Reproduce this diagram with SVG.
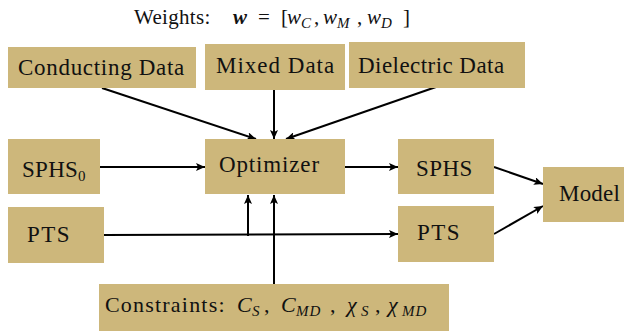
<svg xmlns="http://www.w3.org/2000/svg" width="624" height="332" viewBox="0 0 624 332">
  <style>
    .box { fill: #CDB77B; }
    .lbl { font-size: 23px; fill: #111; }
    .mi { font-style: italic; }
    .sub { font-size: 15px; }
    .edge { stroke: #000; stroke-width: 2; fill: none; marker-end: url(#arrow); }
  </style>
  <defs>
    <marker id="arrow" markerUnits="userSpaceOnUse" markerWidth="10" markerHeight="8" refX="9" refY="4" orient="auto">
      <path d="M0,0 L9,4 L0,8 L2,4 Z" fill="#000"/>
    </marker>
  </defs>

  <!-- weights heading -->
  <text class="lbl" font-family="Liberation Serif" style="font-size:21px">
    <tspan x="134" y="24" letter-spacing="0.3">Weights:</tspan>
    <tspan x="233" y="24" font-weight="bold" font-style="italic">w</tspan>
    <tspan x="258" y="24">=</tspan>
    <tspan x="281" y="24">[</tspan>
    <tspan x="287" y="24" class="mi">w</tspan>
    <tspan x="301" y="28" class="mi sub">C</tspan>
    <tspan x="314" y="24">,</tspan>
    <tspan x="323" y="24" class="mi">w</tspan>
    <tspan x="337" y="28" class="mi sub">M</tspan>
    <tspan x="357" y="24">,</tspan>
    <tspan x="367" y="24" class="mi">w</tspan>
    <tspan x="381" y="28" class="mi sub">D</tspan>
    <tspan x="403" y="24">]</tspan>
  </text>

  <!-- connectors -->
  <g id="connectors">
    <line class="edge" x1="102" y1="88" x2="256" y2="139"/>
    <line class="edge" x1="274" y1="90" x2="274" y2="139"/>
    <line class="edge" x1="436" y1="87" x2="286" y2="139"/>
    <line class="edge" x1="100" y1="167" x2="205" y2="167"/>
    <line class="edge" x1="345" y1="167" x2="398" y2="167"/>
    <line class="edge" x1="494" y1="167" x2="543" y2="184"/>
    <line class="edge" x1="104" y1="235" x2="398" y2="234"/>
    <line class="edge" x1="248" y1="236" x2="248" y2="195"/>
    <line class="edge" x1="274" y1="284" x2="274" y2="195"/>
    <line class="edge" x1="494" y1="234" x2="543" y2="206"/>
  </g>

  <g id="conducting">
    <rect class="box" x="8" y="47" width="188" height="41"/>
    <text class="lbl" font-family="Liberation Serif" x="18" y="75" letter-spacing="0.7">Conducting Data</text>
  </g>
  <g id="mixed">
    <rect class="box" x="205" y="44" width="140" height="46"/>
    <text class="lbl" font-family="Liberation Serif" x="216" y="73" letter-spacing="1">Mixed Data</text>
  </g>
  <g id="dielectric">
    <rect class="box" x="349" y="42" width="176" height="46"/>
    <text class="lbl" font-family="Liberation Serif" x="358" y="73" letter-spacing="0.45">Dielectric Data</text>
  </g>
  <g id="sphs0">
    <rect class="box" x="8" y="139" width="92" height="55"/>
    <text class="lbl" font-family="Liberation Serif"><tspan x="22" y="177" letter-spacing="0.3">SPHS</tspan><tspan x="78" y="181" class="sub">0</tspan></text>
  </g>
  <g id="optimizer">
    <rect class="box" x="205" y="139" width="140" height="55"/>
    <text class="lbl" font-family="Liberation Serif" x="219" y="172" letter-spacing="0.85">Optimizer</text>
  </g>
  <g id="sphs">
    <rect class="box" x="398" y="139" width="96" height="55"/>
    <text class="lbl" font-family="Liberation Serif" x="416" y="176" letter-spacing="0.4">SPHS</text>
  </g>
  <g id="pts-in">
    <rect class="box" x="8" y="207" width="96" height="56"/>
    <text class="lbl" font-family="Liberation Serif" x="27" y="242" letter-spacing="1.4">PTS</text>
  </g>
  <g id="pts-out">
    <rect class="box" x="398" y="206" width="96" height="56"/>
    <text class="lbl" font-family="Liberation Serif" x="417" y="240" letter-spacing="1.4">PTS</text>
  </g>
  <g id="model">
    <rect class="box" x="543" y="167" width="81" height="55"/>
    <text class="lbl" font-family="Liberation Serif" x="559" y="201" letter-spacing="0.2">Model</text>
  </g>
  <g id="constraints">
    <rect class="box" x="99" y="284" width="350" height="47"/>
    <text class="lbl" font-family="Liberation Serif" style="font-size:22px">
      <tspan x="105" y="312" letter-spacing="1.2">Constraints:</tspan>
      <tspan x="237" y="312" class="mi">C</tspan>
      <tspan x="252" y="316" class="mi sub">S</tspan>
      <tspan x="264" y="312">,</tspan>
      <tspan x="281" y="312" class="mi">C</tspan>
      <tspan x="296" y="316" class="mi sub" letter-spacing="1">MD</tspan>
      <tspan x="330" y="312">,</tspan>
      <tspan x="347" y="312" class="mi">χ</tspan>
      <tspan x="361" y="316" class="mi sub">S</tspan>
      <tspan x="375" y="312">,</tspan>
      <tspan x="388" y="312" class="mi">χ</tspan>
      <tspan x="402" y="316" class="mi sub" letter-spacing="1">MD</tspan>
    </text>
  </g>
</svg>
